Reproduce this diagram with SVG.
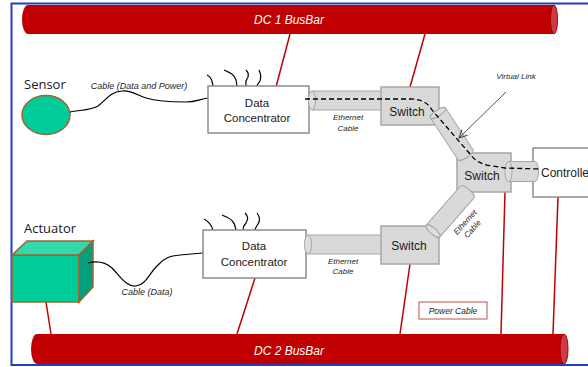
<svg xmlns="http://www.w3.org/2000/svg" width="588" height="367" viewBox="0 0 588 367">
  <style>
    .frame { stroke: #1f3fc4; stroke-width: 2; fill: none; }
    .bar { fill: #c00000; }
    .barcap { fill: #d03a44; stroke: #a00000; stroke-width: 1; }
    .bartext { font-family: "Liberation Sans", Arial, sans-serif; font-size: 12px; font-style: italic; fill: #ffffff; text-anchor: middle; }
    .power { stroke: #c00000; stroke-width: 1.5; fill: none; }
    .box { fill: #ffffff; stroke: #8c8c8c; stroke-width: 1.5; }
    .sw { fill: #d9d9d9; stroke: #a6a6a6; stroke-width: 1.5; }
    .cab { fill: #d9d9d9; stroke: #a6a6a6; stroke-width: 1; }
    .cabcap { fill: #dedede; stroke: #a6a6a6; stroke-width: 1; }
    .wire { stroke: #000000; stroke-width: 1.2; fill: none; }
    .lbl { font-family: "Liberation Sans", Arial, sans-serif; fill: #1a1a1a; text-anchor: middle; }
    .node { font-size: 11.5px; }
    .swt { font-size: 12px; }
    .dev { font-family: "Open Sans", "Liberation Sans", sans-serif; font-size: 13px; fill: #1a1a1a; }
    .it { font-family: "Liberation Sans", Arial, sans-serif; font-style: italic; fill: #262626; text-anchor: middle; }
    .vl { stroke: #000000; stroke-width: 1.3; stroke-dasharray: 5 3; fill: none; }
    .teal-front { fill: #00cc99; stroke: #a0642d; stroke-width: 1.5; }
    .teal-top { fill: #33d9ad; stroke: #a0642d; stroke-width: 1.5; }
    .teal-side { fill: #00a07c; stroke: #a0642d; stroke-width: 1.5; }
  </style>
  <defs>
    <marker id="openArrow" markerWidth="10" markerHeight="10" refX="9" refY="5" orient="auto" markerUnits="userSpaceOnUse">
      <path d="M1,1 L9,5 L1,9" fill="none" stroke="#404040" stroke-width="1"/>
    </marker>
  </defs>

  <rect x="0" y="0" width="588" height="367" fill="#ffffff"/>

  <!-- outer frame -->
  <path class="frame" d="M11.5,366 V3.5 H588 M11.5,365 H588"/>

  <!-- DC busbars -->
  <g id="dc1-busbar">
    <path class="bar" d="M28,5 H554 V34 H28 A6,14.5 0 0 1 28,5 Z"/>
    <ellipse class="barcap" cx="554" cy="19.5" rx="3.5" ry="14.5"/>
    <text class="bartext" x="289" y="23.5">DC 1 BusBar</text>
  </g>
  <g id="dc2-busbar">
    <path class="bar" d="M37,334 H564 V364 H37 A6,15 0 0 1 37,334 Z"/>
    <ellipse class="barcap" cx="564" cy="349" rx="4" ry="15"/>
    <text class="bartext" x="289" y="355">DC 2 BusBar</text>
  </g>

  <!-- power cables -->
  <g id="power-cables">
    <line class="power" x1="276" y1="87" x2="290" y2="34"/>
    <line class="power" x1="410" y1="87" x2="425" y2="34"/>
    <line class="power" x1="505" y1="192" x2="501" y2="334"/>
    <line class="power" x1="558" y1="197" x2="553" y2="334"/>
    <line class="power" x1="46" y1="302" x2="51" y2="334"/>
    <line class="power" x1="255" y1="278" x2="237" y2="334"/>
    <line class="power" x1="410" y1="264" x2="400" y2="334"/>
  </g>

  <!-- sensor -->
  <g id="sensor">
    <ellipse class="teal-front" cx="46" cy="115" rx="24" ry="19.5"/>
    <text class="dev" x="24" y="89">Sensor</text>
  </g>

  <!-- actuator -->
  <g id="actuator">
    <rect class="teal-front" x="12" y="255" width="67" height="47"/>
    <polygon class="teal-top" points="12,255 27,241 93,241 79,255"/>
    <polygon class="teal-side" points="79,255 93,241 93,287 79,302"/>
    <text class="dev" x="24" y="233">Actuator</text>
  </g>

  <!-- field cables and loose wires -->
  <g id="field-wires">
    <path class="wire" d="M70,112 C80,110 92,110 98,106 C106,100 110,92 122,91 C132,90 138,96 146,98 C156,101 170,102 186,102 C196,102 200,99 208,98"/>
    <path class="wire" d="M88,263 C96,261 104,261 112,268 C120,276 126,287 136,286 C146,285 150,272 158,265 C164,258 170,256 180,255 L203,253"/>
    <path class="wire" d="M207,75 C211,77 212,80 213,86"/>
    <path class="wire" d="M224,70 C229,72 234,75 235,78 C237,80 236,83 237,86"/>
    <path class="wire" d="M246,70 C249,73 249,76 247,79 C245,81 246,84 246,86"/>
    <path class="wire" d="M259,70 C261,74 261,78 260,81 C259,83 257,84 257,86"/>
    <path class="wire" d="M204,219 C208,221 211,224 213,230"/>
    <path class="wire" d="M222,215 C227,217 232,219 233,222 C235,224 235,227 236,230"/>
    <path class="wire" d="M245,213 C248,216 248,220 246,223 C244,225 243,228 243,230"/>
    <path class="wire" d="M257,213 C260,217 260,221 258,224 C257,226 255,228 255,230"/>
  </g>

  <!-- data concentrators and controller -->
  <g id="data-concentrator-1">
    <rect class="box" x="208" y="86" width="101" height="47"/>
    <text class="lbl node" x="257" y="107">Data</text>
    <text class="lbl node" x="257" y="122">Concentrator</text>
  </g>
  <g id="data-concentrator-2">
    <rect class="box" x="203" y="230" width="103" height="48"/>
    <text class="lbl node" x="254" y="250">Data</text>
    <text class="lbl node" x="254" y="266">Concentrator</text>
  </g>
  <g id="controller">
    <rect class="box" x="533" y="148" width="80" height="49"/>
    <text class="lbl swt" x="541" y="177" style="text-anchor:start">Controller</text>
  </g>

  <!-- ethernet cables (straight) -->
  <g id="connectors">
    <g id="eth-dc1-sw1">
      <rect class="cab" x="312" y="91" width="72" height="19"/>
      <ellipse class="cabcap" cx="312" cy="100.5" rx="3.5" ry="9.5"/>
    </g>
    <g id="eth-dc2-sw3">
      <rect class="cab" x="308" y="235" width="76" height="19"/>
      <ellipse class="cabcap" cx="308" cy="244.5" rx="3.5" ry="9.5"/>
    </g>
  </g>

  <!-- switches -->
  <g id="switch-1">
    <rect class="sw" x="381" y="87" width="58" height="38"/>
    <text class="lbl swt" x="407" y="116">Switch</text>
  </g>
  <g id="switch-2">
    <rect class="sw" x="457" y="153" width="54" height="39"/>
    <text class="lbl swt" x="482" y="180">Switch</text>
  </g>
  <g id="switch-3">
    <rect class="sw" x="381" y="226" width="58" height="38"/>
    <text class="lbl swt" x="409" y="250">Switch</text>
  </g>

  <!-- ethernet cables between switches -->
  <g id="connectors-upper">
    <g id="eth-sw1-sw2" transform="translate(438,113) rotate(56.6)">
      <path class="cab" d="M0,-9 H50 A3,9 0 0 1 50,9 H0 Z"/>
      <ellipse class="cabcap" cx="0" cy="0" rx="3" ry="9"/>
    </g>
    <g id="eth-sw3-sw2" transform="translate(433,231) rotate(-48.7)">
      <path class="cab" d="M0,-9 H52 A3,9 0 0 1 52,9 H0 Z"/>
      <ellipse class="cabcap" cx="0" cy="0" rx="3" ry="9"/>
    </g>
    <g id="eth-sw2-ctrl">
      <path class="cab" d="M508.5,161.5 H535 A3.5,10 0 0 1 535,181.5 H508.5 Z"/>
      <ellipse class="cabcap" cx="508.5" cy="171.5" rx="3.5" ry="10"/>
    </g>
  </g>

  <!-- virtual link -->
  <g id="virtual-link">
    <path class="vl" d="M305,99 H410 Q426,99 432,110 L470,154 Q477,164 492,166 L505,168 L541,169"/>
    <line x1="506" y1="92" x2="459" y2="138" stroke="#404040" stroke-width="0.9" marker-end="url(#openArrow)"/>
    <text class="it" x="516" y="79" font-size="8">Virtual Link</text>
  </g>

  <!-- cable labels -->
  <g id="labels">
    <text class="it" x="139" y="89" font-size="9">Cable (Data and Power)</text>
    <text class="it" x="147" y="295" font-size="9">Cable (Data)</text>
    <text class="it" x="348" y="120" font-size="8">Ethernet</text>
    <text class="it" x="348" y="131" font-size="8">Cable</text>
    <text class="it" x="343" y="264" font-size="8">Ethernet</text>
    <text class="it" x="343" y="274" font-size="8">Cable</text>
    <g transform="translate(467,224) rotate(-48)">
      <text class="it" x="0" y="0" font-size="8">Ethernet</text>
      <text class="it" x="0" y="10" font-size="8">Cable</text>
    </g>
  </g>

  <!-- legend -->
  <g id="legend-power-cable">
    <rect x="419" y="302" width="68" height="17" fill="#ffffff" stroke="#c0504d" stroke-width="1"/>
    <text class="it" x="453" y="314" font-size="8.5">Power Cable</text>
  </g>
</svg>
